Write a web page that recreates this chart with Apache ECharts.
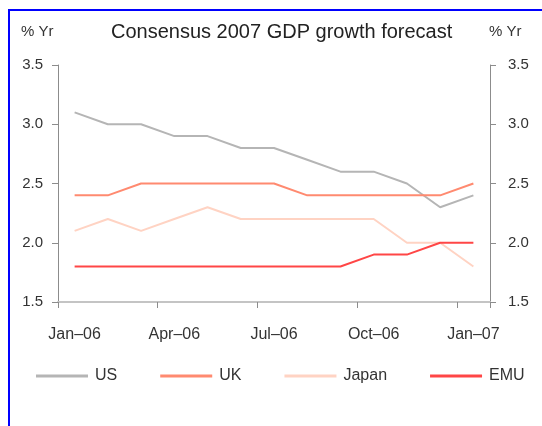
<!DOCTYPE html>
<html>
<head>
    <meta charset="UTF-8">
    <title>Consensus 2007 GDP growth forecast</title>
    <script src="https://cdn.jsdelivr.net/npm/echarts@6/dist/echarts.min.js"></script>
    <style>
        body { margin: 0; background: #fff; }
        #frame { position: absolute; left: 8px; top: 9px; width: 534px; height: 417px;
                 border-top: 2px solid #0000ff; border-left: 2px solid #0000ff; box-sizing: border-box; }
        #chart { position: absolute; left: 0; top: 0; width: 542px; height: 426px; }
    </style>
</head>
<body>
<div id="frame"></div>
<div id="chart"></div>
<script>
    // monthly forecasts, Jan-06 .. Jan-07
    var months = ['Jan–06', 'Feb–06', 'Mar–06', 'Apr–06', 'May–06', 'Jun–06', 'Jul–06',
        'Aug–06', 'Sep–06', 'Oct–06', 'Nov–06', 'Dec–06', 'Jan–07'];
    var us = [3.1, 3.0, 3.0, 2.9, 2.9, 2.8, 2.8, 2.7, 2.6, 2.6, 2.5, 2.3, 2.4];
    var uk = [2.4, 2.4, 2.5, 2.5, 2.5, 2.5, 2.5, 2.4, 2.4, 2.4, 2.4, 2.4, 2.5];
    var japan = [2.1, 2.2, 2.1, 2.2, 2.3, 2.2, 2.2, 2.2, 2.2, 2.2, 2.0, 2.0, 1.8];
    var emu = [1.8, 1.8, 1.8, 1.8, 1.8, 1.8, 1.8, 1.8, 1.8, 1.9, 1.9, 2.0, 2.0];

    var font = 'Liberation Sans, Arial, sans-serif';

    function yAxis(pos) {
        return {
            type: 'value',
            position: pos,
            min: 1.5,
            max: 3.5,
            interval: 0.5,
            splitLine: { show: false },
            axisLine: { show: true, lineStyle: { color: '#8c8c8c', width: 1 } },
            axisTick: { show: true, inside: false, length: 6, lineStyle: { color: '#8c8c8c' } },
            axisLabel: {
                margin: pos === 'left' ? 15 : 18,
                color: '#333',
                fontSize: 15,
                fontFamily: font,
                formatter: function (v) { return v.toFixed(1); }
            }
        };
    }

    function line(name, data, color) {
        return {
            name: name,
            type: 'line',
            data: data,
            symbol: 'none',
            lineStyle: { color: color, width: 2 },
            itemStyle: { color: color }
        };
    }

    var chart = echarts.init(document.getElementById('chart'));
    chart.setOption({
        animation: false,
        title: [
            { text: 'Consensus 2007 GDP growth forecast', left: 106, top: 17,
              textStyle: { fontSize: 20, fontWeight: 'normal', color: '#222', fontFamily: font } },
            { text: '% Yr', left: 16, top: 19,
              textStyle: { fontSize: 15, fontWeight: 'normal', color: '#333', fontFamily: font } },
            { text: '% Yr', left: 484, top: 19,
              textStyle: { fontSize: 15, fontWeight: 'normal', color: '#333', fontFamily: font } }
        ],
        grid: { left: 58, right: 52, top: 65, bottom: 124 },
        xAxis: {
            type: 'category',
            data: months,
            boundaryGap: true,
            axisLine: { lineStyle: { color: '#c4c4c4', width: 2 } },
            axisTick: { show: true, interval: 2, length: 6, lineStyle: { color: '#8c8c8c', width: 1 } },
            axisLabel: { interval: 2, margin: 25, color: '#333', fontSize: 16, fontFamily: font }
        },
        yAxis: [yAxis('left'), yAxis('right')],
        legend: {
            left: 36,
            top: 368,
            padding: 0,
            icon: 'rect',
            itemWidth: 52,
            itemHeight: 3,
            itemGap: 43,
            textStyle: { color: '#333', fontSize: 16, fontFamily: font, padding: [0, 0, 0, 2] },
            data: ['US', 'UK', 'Japan', 'EMU']
        },
        series: [
            line('US', us, '#b5b5b5'),
            line('UK', uk, '#ff8a70'),
            line('Japan', japan, '#ffd3c3'),
            line('EMU', emu, '#ff4646')
        ]
    });
</script>
</body>
</html>
